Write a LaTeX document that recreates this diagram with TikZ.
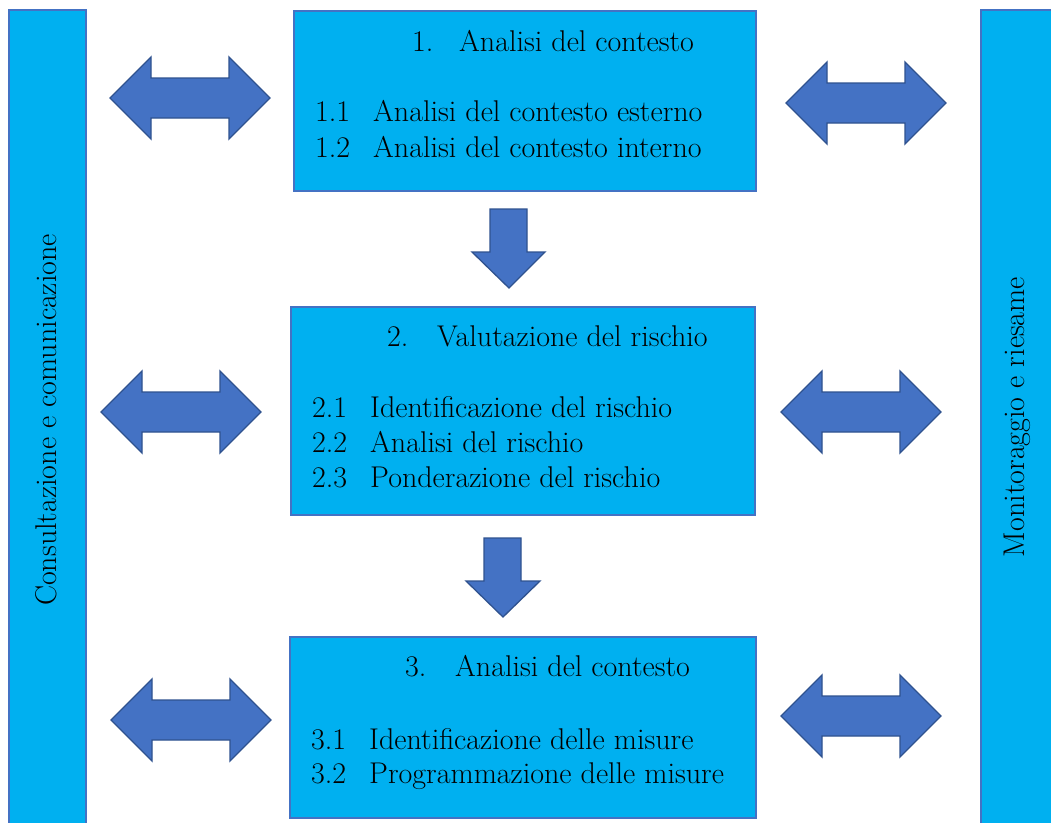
\documentclass[tikz,border=0pt]{standalone}
\usepackage{fontspec}
\begin{document}
\begin{tikzpicture}[x=1pt,y=-1pt,
  bar/.style={draw=boxline,fill=boxfill,line width=1.2pt},
  stagebox/.style={draw=boxline,fill=boxfill,line width=1.6pt},
  blockarrow/.style={draw=arrline,fill=arrfill,line width=1.3pt,line join=miter},
  txt/.style={inner sep=0pt,anchor=base west,font=\fontsize{30}{34}\selectfont},
  sidetxt/.style={inner sep=0pt,rotate=90,font=\fontsize{30}{34}\selectfont}]
\definecolor{boxfill}{HTML}{00B0F0}
\definecolor{boxline}{HTML}{4472C4}
\definecolor{arrfill}{HTML}{4472C4}
\definecolor{arrline}{HTML}{2F528F}
\useasboundingbox (0,0) rectangle (1051,822);
\fill[white] (0,0) rectangle (1051,822);
% side bars
\path[bar] (9,10) rectangle (86,830);
\path[bar] (981,10) rectangle (1060,830);
\node[sidetxt] (lefttxt) at (46,420) {Consultazione e comunicazione};
\node[sidetxt] (righttxt) at (1017,417) {Monitoraggio e riesame};
% stage boxes
\path[stagebox] (294,11) rectangle (756,191);
\path[stagebox] (291,307) rectangle (755,515);
\path[stagebox] (290,637) rectangle (756,818);
% box 1 text
\node[txt] (t1) at (412,51) {1.};
\node[txt] (t1a) at (459,51) {Analisi del contesto};
\node[txt] (t11) at (315,121) {1.1};
\node[txt] (t11a) at (373,121) {Analisi del contesto esterno};
\node[txt] (t12) at (315,157) {1.2};
\node[txt] (t12a) at (373,157) {Analisi del contesto interno};
% box 2 text
\node[txt] (t2) at (387,346) {2.};
\node[txt] (t2a) at (437,346) {Valutazione del rischio};
\node[txt] (t21) at (312,417) {2.1};
\node[txt] (t21a) at (370,417) {Identificazione del rischio};
\node[txt] (t22) at (312,452) {2.2};
\node[txt] (t22a) at (370,452) {Analisi del rischio};
\node[txt] (t23) at (312,487) {2.3};
\node[txt] (t23a) at (370,487) {Ponderazione del rischio};
% box 3 text
\node[txt] (t3) at (405,676) {3.};
\node[txt] (t3a) at (455,676) {Analisi del contesto};
\node[txt] (t31) at (311,749) {3.1};
\node[txt] (t31a) at (369,749) {Identificazione delle misure};
\node[txt] (t32) at (311,783) {3.2};
\node[txt] (t32a) at (369,783) {Programmazione delle misure};
% double arrows
\foreach \cx/\cy in {190/98, 866/103, 181/412, 861/412, 191/720, 861/716}{
  \path[blockarrow,shift={(\cx,\cy)}]
    (-80,0) -- (-39,-41) -- (-39,-20) -- (39,-20) -- (39,-41) -- (80,0)
    -- (39,41) -- (39,20) -- (-39,20) -- (-39,41) -- cycle;
}
% down arrows
\path[blockarrow] (490,209) -- (527,209) -- (527,252) -- (545,252) -- (509,288)
  -- (472,252) -- (490,252) -- cycle;
\path[blockarrow] (484,538) -- (521,538) -- (521,581) -- (540,581) -- (503,617)
  -- (466,581) -- (484,581) -- cycle;
\end{tikzpicture}
\end{document}
